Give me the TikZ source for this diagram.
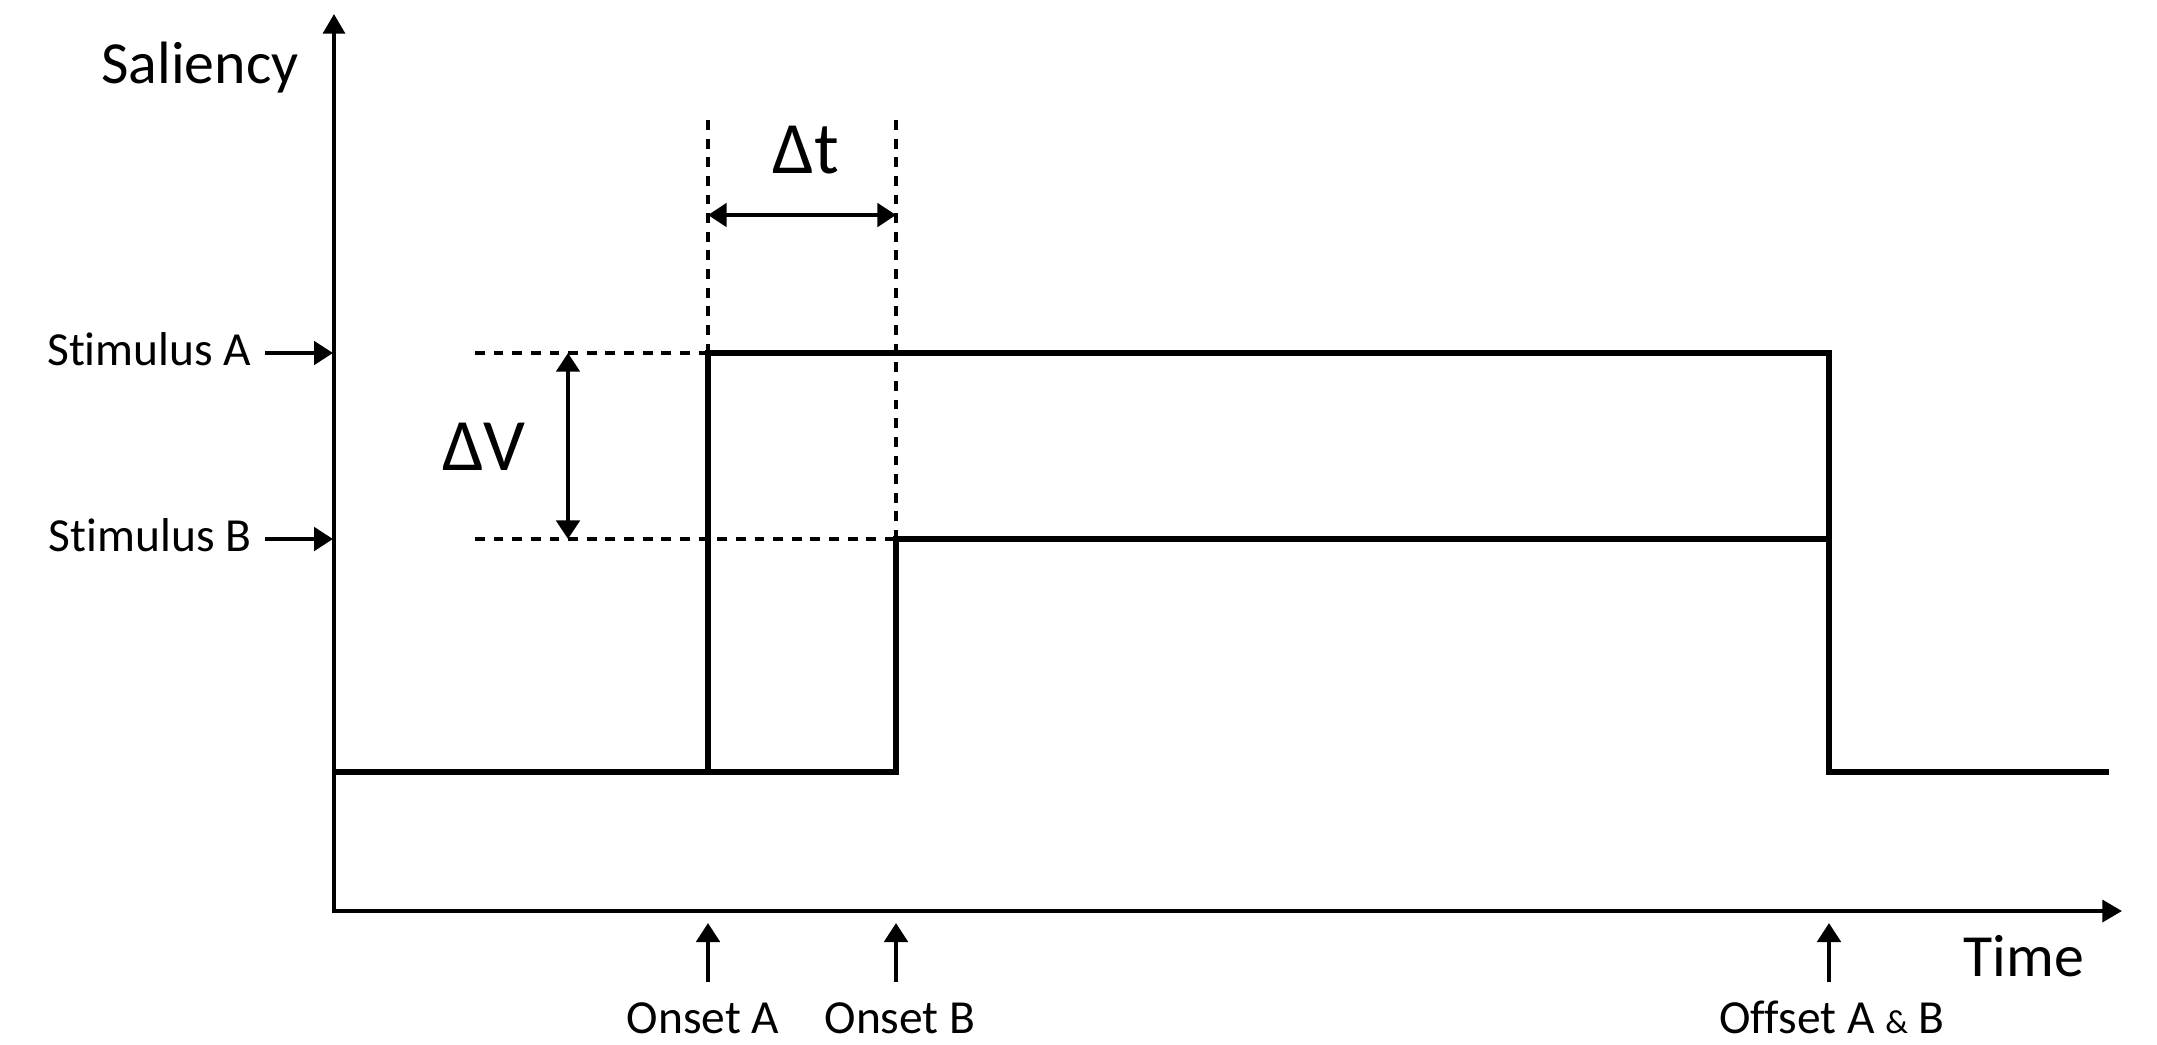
\documentclass[tikz,border=0pt]{standalone}
\usepackage{fontspec}
\setmainfont{Carlito}[Ligatures=NoCommon]
\usetikzlibrary{arrows.meta}
\begin{document}
\begin{tikzpicture}[x=0.01cm,y=-0.01cm,
  sig/.style={line width=1.75pt, line join=miter, line cap=butt},
  axisline/.style={line width=1.15pt, -{Triangle[length=5.6pt,width=6.2pt]}},
  guide/.style={line width=1.1pt, dash pattern=on 2.8pt off 2.5pt},
  dimarrow/.style={line width=1.25pt, {Triangle[length=5.3pt,width=6.6pt]}-{Triangle[length=5.3pt,width=6.6pt]}},
  ptr/.style={line width=1.25pt, -{Triangle[length=5.4pt,width=6.6pt]}},
  big/.style={font=\fontsize{17}{20}\selectfont, inner sep=0pt, anchor=base},
  small/.style={font=\fontsize{13.5}{16}\selectfont, inner sep=0pt, anchor=base},
  delta/.style={font=\fontsize{21}{24}\selectfont, inner sep=0pt, anchor=base}]
\useasboundingbox (0,0) rectangle (2157,1044);
% axes
\coordinate (O) at (334,911);
\coordinate (ytip) at (334,14);
\coordinate (xtip) at (2122,911);
\draw[axisline] (O) -- (ytip);
\draw[axisline] ([xshift=-0.02cm]O) -- (xtip);
% key points
\coordinate (b0) at (334,772);
\coordinate (onA) at (708,772);
\coordinate (onB) at (896,772);
\coordinate (topA) at (708,353);
\coordinate (topB) at (896,539);
\coordinate (offA) at (1829,353);
\coordinate (offB) at (1829,539);
\coordinate (offLow) at (1829,772);
\coordinate (bend) at (2109,772);
% guides
\coordinate (gA) at (708,120);
\coordinate (gB) at (896,120);
\coordinate (hA) at (475,353);
\coordinate (hB) at (475,539);
\draw[guide] (gA) -- (topA);
\draw[guide] (gB) -- (topB);
\draw[guide] (hA) -- (topA);
\draw[guide] (hB) -- (topB);
% signals
\draw[sig] (b0) -- (onB) -- (topB) -- (offB);
\draw[sig] (onA) -- (topA) -- (offA) -- (offLow) -- (bend);
% dimension arrows
\coordinate (dtL) at (708,215);
\coordinate (dtR) at (896,215);
\draw[dimarrow] (dtL) -- (dtR);
\coordinate (dvT) at (568,353);
\coordinate (dvB) at (568,539);
\draw[dimarrow] (dvT) -- (dvB);
\node[delta] (dt) at (806,173) {Δt};
\node[delta] (dv) at (484,470) {ΔV};
% labels
\node[big] (sal) at (200,83) {Saliency};
\node[big] (time) at (2024,976) {Time};
\node[small, anchor=base east] (sA) at (252,365) {Stimulus A};
\node[small, anchor=base east] (sB) at (252,551) {Stimulus B};
\coordinate (axA) at (333,353);
\coordinate (axB) at (333,539);
\coordinate (sAs) at (265,353);
\coordinate (sBs) at (265,539);
\draw[ptr] (sAs) -- (axA);
\draw[ptr] (sBs) -- (axB);
\node[small] (lonA) at (703,1033) {Onset A};
\node[small] (lonB) at (900,1033) {Onset B};
\node[small] (loff) at (1832,1033) {Offset A {\fontsize{9.5}{10}\selectfont\&} B};
\coordinate (tAb) at (708,982); \coordinate (tAt) at (708,923);
\coordinate (tBb) at (896,982); \coordinate (tBt) at (896,923);
\coordinate (tCb) at (1829,982); \coordinate (tCt) at (1829,923);
\draw[ptr] (tAb) -- (tAt);
\draw[ptr] (tBb) -- (tBt);
\draw[ptr] (tCb) -- (tCt);
\end{tikzpicture}
\end{document}
